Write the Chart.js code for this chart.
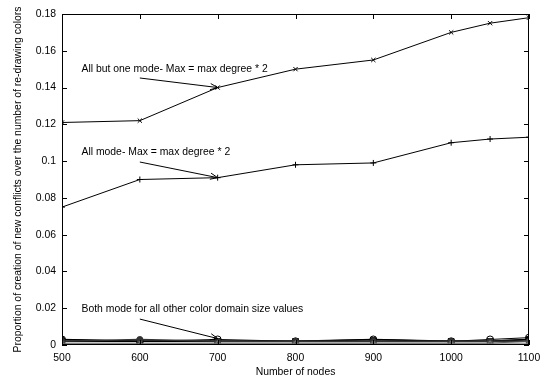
<!DOCTYPE html>
<html>
<head>
<meta charset="utf-8">
<script src="https://cdn.jsdelivr.net/npm/chart.js@4.4.1/dist/chart.umd.min.js"></script>
<style>
  html, body { margin: 0; padding: 0; background: #fff; }
  #wrap { width: 549px; height: 381px; }
</style>
</head>
<body>
<div id="wrap"><canvas id="chart"></canvas></div>
<script>
/* ---------- Data ---------- */
const nodes = [500, 600, 700, 800, 900, 1000, 1050, 1100];
const allButOne = [0.121, 0.122, 0.140, 0.150, 0.155, 0.170, 0.175, 0.178];
const allMode   = [0.075, 0.090, 0.091, 0.098, 0.099, 0.110, 0.112, 0.113];
// the small-domain runs all sit near zero
const otherA = [0.003, 0.002, 0.002, 0.002, 0.003, 0.002, 0.002, 0.003];
const otherB = [0.003, 0.002, 0.003, 0.002, 0.003, 0.002, 0.003, 0.004];
const otherC = [0.002, 0.002, 0.002, 0.002, 0.002, 0.002, 0.002, 0.003];
const otherD = [0.001, 0.001, 0.001, 0.001, 0.001, 0.001, 0.001, 0.002];
const otherE = [0.002, 0.003, 0.002, 0.002, 0.002, 0.002, 0.002, 0.002];
const otherF = [0.0005, 0.0005, 0.001, 0.001, 0.001, 0.001, 0.001, 0.001];
const xTicks = [500, 600, 700, 800, 900, 1000, 1100];
const yTicks = [0, 0.02, 0.04, 0.06, 0.08, 0.1, 0.12, 0.14, 0.16, 0.18];

const FONT = '"Liberation Sans", Arial, Helvetica, sans-serif';
Chart.defaults.font.family = FONT;
Chart.defaults.font.size = 10.4;
Chart.defaults.color = '#000';

const pts = ys => nodes.map((x, i) => ({ x, y: ys[i] }));

function series(ys, style, radius, color, filled, width) {
  return {
    data: pts(ys),
    borderColor: color,
    backgroundColor: filled ? color : 'rgba(0,0,0,0)',
    pointBorderColor: color,
    pointBackgroundColor: filled ? color : 'rgba(0,0,0,0)',
    borderWidth: width || 1,
    pointStyle: style,
    pointRadius: radius,
    pointBorderWidth: 1,
    tension: 0,
    fill: false
  };
}

/* ---------- Labels with arrows (data coords) ---------- */
const notes = [
  { text: 'All but one mode- Max = max degree * 2', tx: 525, ty: 0.150, fx: 600, fy: 0.1452, px: 700, py: 0.140 },
  { text: 'All mode- Max = max degree * 2',          tx: 525, ty: 0.105, fx: 600, fy: 0.0995, px: 700, py: 0.091 },
  { text: 'Both mode for all other color domain size values', tx: 525, ty: 0.0196, fx: 600, fy: 0.0141, px: 700, py: 0.0035 }
];

const framePlugin = {
  id: 'frame',
  afterDatasetsDraw(chart) {
    const { ctx, chartArea: a, scales: { x, y } } = chart;
    ctx.save();
    ctx.strokeStyle = '#000';
    ctx.lineWidth = 1;
    ctx.strokeRect(a.left + 0.5, a.top + 0.5, a.right - a.left - 1, a.bottom - a.top - 1);
    // inward ticks on all four sides
    ctx.beginPath();
    xTicks.forEach(v => {
      const px = Math.round(x.getPixelForValue(v)) + 0.5;
      ctx.moveTo(px, a.bottom); ctx.lineTo(px, a.bottom - 5);
      ctx.moveTo(px, a.top); ctx.lineTo(px, a.top + 5);
    });
    yTicks.forEach(v => {
      const py = Math.round(y.getPixelForValue(v)) + 0.5;
      ctx.moveTo(a.left, py); ctx.lineTo(a.left + 5, py);
      ctx.moveTo(a.right, py); ctx.lineTo(a.right - 5, py);
    });
    ctx.stroke();

    // annotations
    ctx.font = '10.4px ' + FONT;
    ctx.fillStyle = '#000';
    ctx.textBaseline = 'middle';
    ctx.textAlign = 'left';
    notes.forEach(n => {
      ctx.fillText(n.text, x.getPixelForValue(n.tx), y.getPixelForValue(n.ty));
      const x0 = x.getPixelForValue(n.fx), y0 = y.getPixelForValue(n.fy);
      const x1 = x.getPixelForValue(n.px), y1 = y.getPixelForValue(n.py);
      const ang = Math.atan2(y1 - y0, x1 - x0);
      ctx.beginPath();
      ctx.moveTo(x0, y0); ctx.lineTo(x1, y1);
      [0.4, -0.4].forEach(d => {
        ctx.moveTo(x1, y1);
        ctx.lineTo(x1 - 8 * Math.cos(ang + d), y1 - 8 * Math.sin(ang + d));
      });
      ctx.stroke();
    });
    ctx.restore();
  }
};

new Chart(document.getElementById('chart'), {
  type: 'line',
  data: {
    datasets: [
      series(otherF, 'triangle', 2.5, '#777', false),
      series(otherD, 'rect', 2.5, '#555', false),
      series(otherE, 'circle', 3, '#333', true, 1.5),
      series(otherA, 'rect', 3, '#000', false, 1.5),
      series(otherB, 'circle', 3.5, '#000', false),
      series(otherC, 'rect', 4, '#000', true, 1.5),
      series(allMode, 'cross', 3, '#000', false),
      series(allButOne, 'crossRot', 3, '#000', false)
    ]
  },
  options: {
    responsive: true,
    maintainAspectRatio: false,
    animation: false,
    layout: { padding: { top: 14, right: 20, left: 0, bottom: 0 } },
    plugins: { legend: { display: false }, tooltip: { enabled: false } },
    scales: {
      x: {
        type: 'linear',
        min: 500, max: 1100,
        afterFit: s => { s.height = 36; },
        afterBuildTicks: s => { s.ticks = xTicks.map(v => ({ value: v })); },
        grid: { display: false, drawTicks: false },
        border: { display: false },
        ticks: { padding: 7, maxRotation: 0, autoSkip: false, callback: v => String(v) },
        title: { display: true, text: 'Number of nodes', padding: { top: 2, bottom: 3 } }
      },
      y: {
        min: 0, max: 0.18,
        afterFit: s => { s.width = 62; },
        afterBuildTicks: s => { s.ticks = yTicks.map(v => ({ value: v })); },
        grid: { display: false, drawTicks: false },
        border: { display: false },
        ticks: { padding: 6, autoSkip: false, callback: v => String(+v.toFixed(2)) },
        title: { display: true, text: 'Proportion of creation of new conflicts over the number of re-drawing colors', padding: { top: 12, bottom: 0 } }
      }
    }
  },
  plugins: [framePlugin]
});
</script>
</body>
</html>
